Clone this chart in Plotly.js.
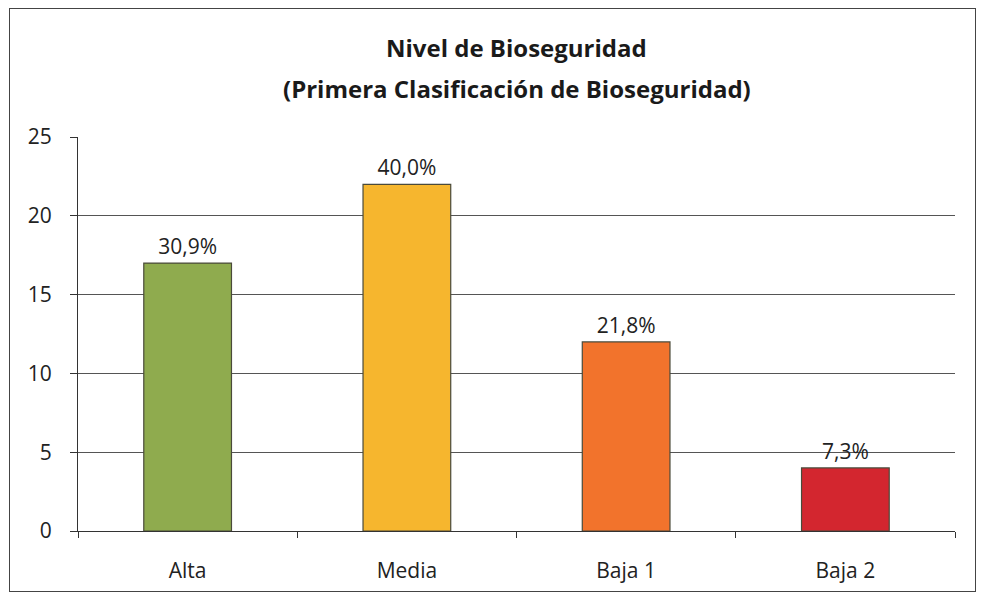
<!DOCTYPE html>
<html>
<head>
<meta charset="utf-8">
<script src="https://cdn.plot.ly/plotly-3.0.1.min.js"></script>
<style>
  html, body { margin: 0; padding: 0; background: #fff; }
  #chart { width: 981px; height: 595px; }
  #frame { position: absolute; left: 9px; top: 8px; width: 965px; height: 582px; border: 1.5px solid #444; pointer-events: none; }
</style>
</head>
<body>
<div id="chart"></div>
<div id="frame"></div>
<script>
const categories = ["Alta", "Media", "Baja 1", "Baja 2"];
const counts = [17, 22, 12, 4];
const percentLabels = ["30,9%", "40,0%", "21,8%", "7,3%"];
const barColors = ["#8fab4e", "#f6b62e", "#f2732c", "#d3262f"];
const yTicks = [0, 5, 10, 15, 20, 25];
const titleLine1 = "Nivel de Bioseguridad";
const titleLine2 = "(Primera Clasificación de Bioseguridad)";

const fontFam = "Open Sans, Noto Sans, sans-serif";

const trace = {
  type: "bar",
  x: categories,
  y: counts,
  text: percentLabels,
  textposition: "outside",
  cliponaxis: false,
  textfont: { family: fontFam, size: 21, color: "#222" },
  marker: { color: barColors, line: { color: "#4a4a3a", width: 1.2 } },
  width: 0.4,
  hoverinfo: "x+y"
};

const layout = {
  width: 981,
  height: 595,
  paper_bgcolor: "#fff",
  plot_bgcolor: "#fff",
  margin: { l: 78, r: 26, t: 137, b: 64 },
  showlegend: false,
  annotations: [
    { text: "<b>" + titleLine1 + "</b>", xref: "paper", yref: "paper", x: 0.5, y: 1.228,
      xanchor: "center", yanchor: "middle", showarrow: false,
      font: { family: fontFam, size: 24, color: "#1a1a1a" } },
    { text: "<b>" + titleLine2 + "</b>", xref: "paper", yref: "paper", x: 0.5, y: 1.124,
      xanchor: "center", yanchor: "middle", showarrow: false,
      font: { family: fontFam, size: 24, color: "#1a1a1a" } }
  ],
  xaxis: {
    type: "category",
    tickson: "boundaries",
    ticks: "outside",
    ticklen: 6,
    tickcolor: "#333",
    showline: true,
    linecolor: "#333",
    linewidth: 1,
    showgrid: false,
    ticklabelstandoff: 21,
    tickfont: { family: fontFam, size: 21, color: "#222" },
    fixedrange: true
  },
  yaxis: {
    range: [0, 25],
    tickvals: yTicks,
    ticktext: yTicks.map(String),
    ticks: "outside",
    ticklen: 7,
    tickcolor: "#333",
    showline: true,
    linecolor: "#333",
    linewidth: 1,
    showgrid: true,
    gridcolor: "#555",
    gridwidth: 1,
    zeroline: false,
    ticklabelstandoff: 14,
    tickfont: { family: fontFam, size: 21, color: "#222" },
    fixedrange: true
  }
};

Plotly.newPlot("chart", [trace], layout, { displayModeBar: false, staticPlot: true });
</script>
</body>
</html>
